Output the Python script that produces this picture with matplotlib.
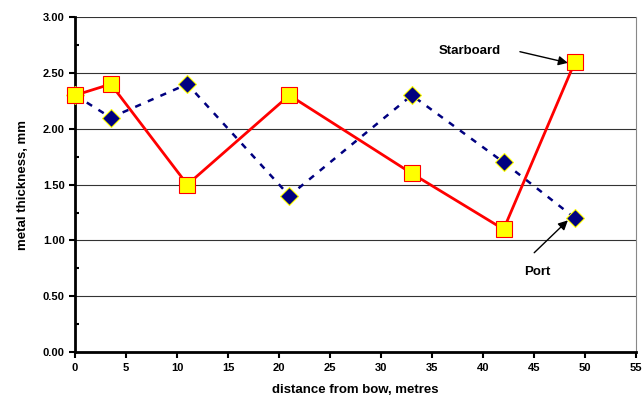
import matplotlib
matplotlib.use("Agg")
import matplotlib.pyplot as plt
from matplotlib.ticker import MultipleLocator

plt.rcParams['font.family'] = ['Liberation Sans', 'DejaVu Sans']
plt.rcParams['font.weight'] = 'bold'

# data
distance = [0, 3.5, 11, 21, 33, 42, 49]
port = [2.3, 2.1, 2.4, 1.4, 2.3, 1.7, 1.2]
starboard = [2.3, 2.4, 1.5, 2.3, 1.6, 1.1, 2.6]

fig = plt.figure(figsize=(6.42, 3.97), dpi=100)
ax = fig.add_axes([0.117, 0.113, 0.874, 0.844])

ax.plot(distance, port, color='#000080', lw=1.8, ls=(0, (2.5, 3)), marker='D', ms=9.5,
        mfc='#000080', mec='yellow', mew=0.8, zorder=3, clip_on=False)
ax.plot(distance, starboard, color='red', lw=2, marker='s', ms=11,
        mfc='yellow', mec='red', mew=0.8, zorder=4, clip_on=False)

ax.set_xlim(0, 55)
ax.set_ylim(0, 3)
ax.xaxis.set_major_locator(MultipleLocator(5))
ax.yaxis.set_major_locator(MultipleLocator(0.5))
ax.yaxis.set_minor_locator(MultipleLocator(0.25))
ax.yaxis.set_major_formatter(lambda v, p: f"{v:.2f}")
ax.tick_params(axis='both', which='major', direction='out', length=4, width=1.5, labelsize=8)
ax.tick_params(axis='y', which='minor', direction='in', length=3, width=1.5)
ax.grid(axis='y', which='major', color='#333333', lw=0.8)
ax.set_axisbelow(True)

for s in ['left', 'bottom']:
    ax.spines[s].set_linewidth(2)
ax.spines['top'].set_visible(False)
ax.spines['right'].set_color('#888888')

ax.set_xlabel('distance from bow, metres', fontsize=9.5, fontweight='bold', labelpad=8)
ax.set_ylabel('metal thickness, mm', fontsize=9.5, fontweight='bold', labelpad=10)

# callouts
ax.text(38.7, 2.70, 'Starboard', fontsize=9.5, fontweight='bold', ha='center', va='center')
ax.annotate('', xy=(48.3, 2.59), xytext=(43.6, 2.69),
            arrowprops=dict(arrowstyle='-|>', color='black', lw=1, mutation_scale=14, shrinkA=0, shrinkB=0))
ax.text(45.3, 0.72, 'Port', fontsize=9.5, fontweight='bold', ha='center', va='center')
ax.annotate('', xy=(48.3, 1.18), xytext=(45.0, 0.89),
            arrowprops=dict(arrowstyle='-|>', color='black', lw=1, mutation_scale=14, shrinkA=0, shrinkB=0))

fig.savefig('out.png', dpi=100)
